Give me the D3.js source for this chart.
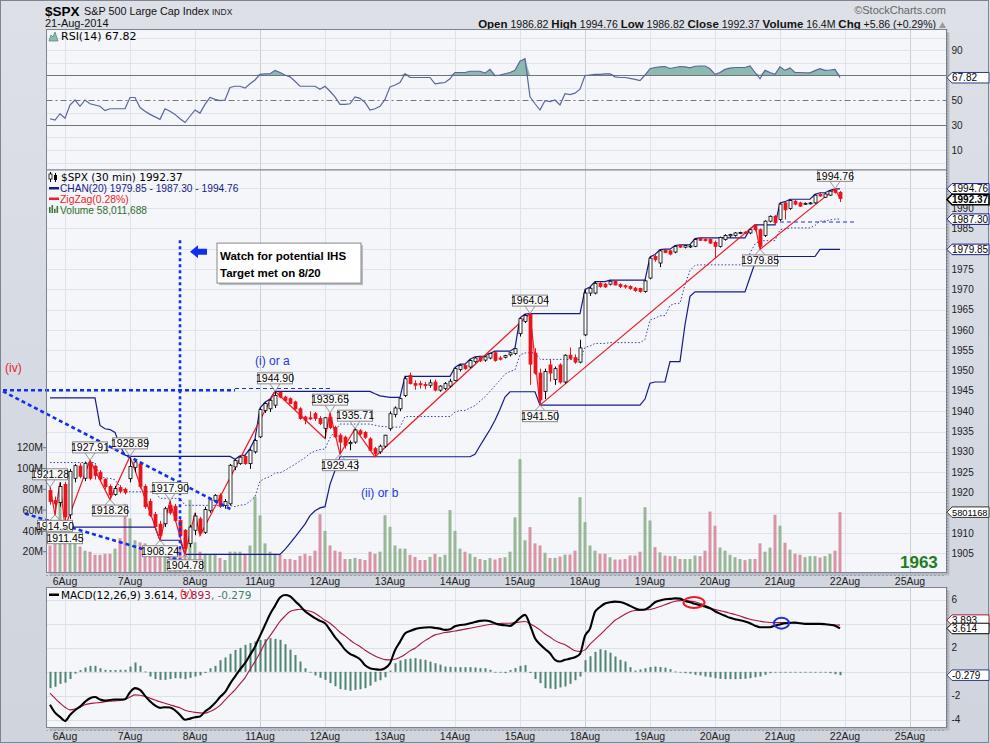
<!DOCTYPE html>
<meta charset="utf-8">
<style>
  body { margin: 0; background: #d6dae3; }
  svg text { font-family: "Liberation Sans", Arial, sans-serif; }
  .dv { font-family: "DejaVu Sans", Verdana, sans-serif !important; }
</style>
<svg width="990" height="744"></svg>
<script src="https://d3js.org/d3.v7.min.js"></script>
<script>
// ---- data (30 min bars, 5Aug close .. 21Aug) ----
var dayLabels = ['6Aug', '7Aug', '8Aug', '11Aug', '12Aug', '13Aug', '14Aug', '15Aug', '18Aug', '19Aug', '20Aug', '21Aug', '22Aug', '25Aug'];
var dayStarts = [3, 16, 29, 42, 55, 68, 81, 94, 107, 120, 133, 146, 159, 172];
var weekLabels = ['11Aug', '18Aug', '25Aug'];

// open, high, low, close
var candles = [
  [1920.5,1921.28,1917,1917.8],[1918,1919,1914.5,1917.2],[1917.5,1922.5,1916.5,1921.5],
  [1922,1922.6,1911.45,1914],[1914.5,1925.8,1913.5,1925.2],[1923.5,1927,1922.5,1926.6],[1926.5,1927.2,1923.5,1924],
  [1923.5,1927.6,1922.8,1927.2],[1927.2,1927.91,1923,1923.5],[1926.5,1926.8,1923.2,1924.2],[1925,1925.5,1922.8,1923.3],
  [1923.2,1923.5,1920.8,1921.4],[1921.5,1922,1918.26,1919.4],[1919.5,1921.6,1919.2,1921],[1921.2,1921.8,1919.8,1920.3],
  [1920.8,1921.2,1919.5,1920],
  [1923.4,1928.89,1922.5,1926.4],[1926.2,1928,1925,1927.5],[1927,1927.5,1921,1921.5],[1921.5,1922,1916,1916.5],
  [1917.8,1918.5,1914,1914.4],[1914.6,1915.2,1911,1911.6],[1912.2,1913,1908.24,1909.4],[1912.3,1916.5,1911.5,1916],
  [1916.8,1917.9,1914.5,1915],[1916.6,1917.2,1912.8,1913.1],[1913.1,1913.5,1909,1909.4],[1910.7,1911,1904.78,1906.2],
  [1907.4,1912,1906.5,1911.5],
  [1910.7,1915,1909.5,1914.2],[1913.5,1914,1909.4,1910],[1910.2,1916.5,1909.8,1915.8],[1915.5,1918.6,1915,1918.2],
  [1918,1919.6,1917.6,1919.3],[1919.3,1919.8,1916.2,1916.6],[1916.8,1918.4,1916,1917.8],[1917.2,1927,1916.8,1926.7],
  [1926.3,1928.2,1925.5,1927.9],[1927.1,1929,1926.8,1928.7],[1928.9,1929.2,1926.8,1927.1],[1927.1,1930.8,1925.8,1930.4],
  [1930,1933.2,1929.6,1932.8],
  [1933.7,1940.8,1933.4,1940.4],[1940.2,1942.2,1939.6,1941.9],[1940.6,1943,1939.8,1942.7],[1941.5,1944.9,1940.8,1943.9],
  [1944.6,1944.8,1943.2,1943.5],[1943.5,1943.8,1942.5,1942.7],[1943.1,1943.4,1941.7,1941.9],[1942.3,1942.6,1940.4,1940.6],
  [1940.6,1941,1937.9,1938.2],[1938.6,1938.9,1936.8,1937.8],[1938.4,1940,1937.8,1938.1],[1939.4,1939.8,1937.6,1938.2],
  [1938.2,1938.8,1936.6,1937],
  [1935.8,1938.6,1933.3,1938.4],[1938.5,1939.65,1935.6,1936],[1936,1936.4,1933.4,1933.7],[1934.1,1934.6,1929.43,1932.4],
  [1933.6,1934,1930.8,1931.6],[1932,1932.8,1930.4,1932.3],[1932.4,1935.71,1932,1935.4],[1935.2,1935.6,1934,1934.4],
  [1934.8,1935.1,1933.2,1933.6],[1933.2,1933.6,1930.2,1930.4],[1930.8,1931.2,1928.8,1929.6],[1930,1931.8,1929.5,1931.4],
  [1931.4,1934.2,1931,1934.1],
  [1935.7,1940,1935.2,1939.4],[1939.2,1941.2,1938.5,1940.8],[1940.6,1943.3,1940,1943.1],[1943.9,1948.6,1943.5,1948],
  [1948.8,1949.5,1946.6,1946.8],[1946.8,1947.6,1945.3,1946.4],[1946.8,1947.5,1945.6,1946.5],[1946.6,1947.2,1945.4,1946.3],
  [1946.4,1947.8,1945.8,1947],[1947.2,1947.8,1944.9,1945.2],[1945.2,1946.4,1944.8,1946.2],[1945.6,1947.2,1945.2,1946.8],
  [1946.2,1948,1945.8,1947.4],
  [1947.6,1950.8,1947.4,1950.5],[1950.3,1951.6,1949.8,1951.3],[1951.3,1951.6,1950.2,1950.5],[1950.9,1952.8,1950.6,1952.5],
  [1952.2,1953.4,1951.8,1953.1],[1953.2,1953.5,1952.1,1952.4],[1952.6,1953.6,1952.2,1953.4],[1953.1,1954.3,1952.8,1954.2],
  [1954.4,1954.8,1952.2,1952.5],[1953.1,1953.6,1952.5,1952.8],[1953.3,1953.9,1953,1953.7],[1953.9,1954.6,1953.5,1954.4],
  [1954.2,1955.6,1953.9,1955.4],
  [1959.1,1963,1958.4,1962.8],[1962.1,1963.9,1961.7,1963.6],[1963.8,1964.04,1946.5,1951.6],[1954.3,1955.5,1949,1949.4],
  [1949.4,1950.5,1941.5,1942.8],[1944.9,1950.5,1943,1949.8],[1951.4,1952.8,1947.3,1949.4],[1947.8,1951,1946.5,1950.5],
  [1951.4,1951.8,1946.8,1947.2],[1947.2,1954,1946.8,1953.8],[1953.8,1955.7,1952.7,1953],[1953.2,1954,1951.7,1952.1],
  [1952.1,1957.6,1951.8,1955.6],
  [1958.8,1970,1958.5,1969.1],[1969.1,1970.6,1968.4,1970.3],[1969.1,1971.9,1968.8,1971.5],[1971.5,1971.8,1970.4,1970.7],
  [1971.3,1971.6,1970.4,1970.6],[1971.3,1972.2,1971,1972],[1972,1972.3,1971,1971.1],[1971.2,1971.5,1970.3,1970.7],
  [1970.9,1971.2,1970.2,1970.6],[1970.7,1971,1969.9,1970.2],[1970.3,1970.6,1969.4,1969.7],[1970.2,1970.4,1969.2,1969.5],
  [1969.5,1972.4,1969.2,1972.1],
  [1972.8,1978,1972.5,1977.7],[1978.1,1978.6,1976.8,1977.3],[1976.5,1979.8,1975.5,1979.5],[1979.6,1979.9,1978.9,1979.1],
  [1979.5,1979.7,1978.4,1978.7],[1979.2,1980.8,1978.9,1980.6],[1980.8,1981,1980.2,1980.4],[1980.4,1980.9,1980.1,1980.8],
  [1980.6,1981,1980.2,1980.7],[1980.6,1982.5,1980.4,1982.3],[1982.5,1982.7,1981.9,1982.1],[1982.3,1982.6,1981.8,1982],
  [1982.3,1982.6,1981.2,1981.4],
  [1981.6,1982,1977.7,1980.6],[1980.6,1983,1980.3,1982.8],[1982.3,1983.6,1982,1983.3],[1983.2,1983.7,1982.8,1983.5],
  [1983.3,1984.1,1983,1983.9],[1983.9,1984.2,1983.6,1984],[1984.1,1984.3,1983.6,1983.8],[1983.9,1984.9,1983.6,1984.7],
  [1985.8,1985.9,1984.3,1984.7],[1984.7,1985,1979.85,1980.6],[1983.3,1987,1982.9,1986.8],[1986.8,1988.2,1986.5,1988],
  [1988,1988.3,1986,1986.4],
  [1987.2,1991.3,1986.82,1991],[1991.3,1991.6,1987.2,1989.6],[1989.9,1992.2,1989.6,1991.9],[1991.7,1992,1990.7,1991],
  [1991.3,1991.6,1990.3,1990.5],[1991,1991.4,1990.8,1991.2],[1991.1,1991.5,1990.9,1991.3],[1991.3,1993.4,1991.1,1993.2],
  [1993.4,1993.8,1992.8,1993],[1992.7,1993.7,1992.5,1993.5],[1993.2,1994.4,1993,1994.2],[1994.5,1994.76,1993.6,1993.9],
  [1993.9,1994.2,1991.5,1992.37]
];

// volume, millions
var volume = [
  26,29,70, 45,39,33,25,21,20,17,17,18,18,23,33,66,
  52,31,29,28,23,20,17,18,17,20,23,33,70,
  29,20,18,17,18,14,12,20,20,20,18,26,73,
  55,28,20,18,17,13,13,12,16,18,16,21,56,
  40,26,21,20,13,13,14,13,12,20,18,20,55,
  44,26,23,23,17,15,12,12,15,18,15,17,60,
  40,23,20,18,15,13,12,14,12.5,14,14.7,20,53,
  109,31,43.6,28,26,19,14,14,15.3,17.2,17.2,21,72.4,
  48.4,26,21,18,18,14.7,12.5,12.5,13,16.3,16.3,20,62.8,
  50,24.4,19.4,16.3,15.7,15.7,13,13,13,16.3,15.7,21,58.6,
  45,24,21,17,14.7,13,11.9,13,13,28,20,24,55.4,
  45,28.6,22,18,17,14.7,15.7,15.7,14.4,15.7,18,21,58.01
];

var rsi = [
  35,34,39, 35.5,46,50,45,50,47,46,45,41.5,43,43,43,43,
  52,52,44,41,38.5,36.5,34.5,43,41,38.5,35,32,37,
  42,39.5,46.5,52,50.5,49.5,50,60,61,61,59.5,63,66,
  70.5,71,71,73.7,72,70,68.5,65,61,61,61,61,58.5,
  61,57,52.5,46.5,46.5,47,52.5,51.3,48,42,43,45,50.5,
  60.5,62,64,71,68,68,68,68,68,63,63.5,64,67,
  72,72,72,73,73,73,71.5,74.5,69.5,70,71,72,73.7,
  81,83,52.5,47,42,49.5,48.7,50,46,55,54.3,55.5,58.7,
  69.5,70,70.5,70.5,71,71,68.5,68,68,67.3,66.5,65.5,70,
  75,76,76.5,76.8,75.2,76,76.8,76.5,75.7,77,77.2,77.2,75,
  70.5,72,74.5,75.5,76,76,76,77.2,72,67,73.7,72,70.5,
  76.5,73.7,75.7,72,72,71.8,71.7,73.5,75,73.7,74,74.5,67.82
];

var chanUpper = [
  1943.3,1943.3,1943.3,1943.3,1943.3,1943.3,1943.3,1943.3,1943.3,1943.3,
  1936.5,1935.7,1935.5,1934.8,1931.5,1929.2,
  1928.89,1928.89,1928.89,1928.89,1928.89,1928.89,1928.89,1928.89,1928.89,1928.89,1928.89,
  1928.89,1928.89,1928.89,1928.89,1928.89,1928.89,1928.89,1928.89,1928.89,1928.89,
  1928.2,1929,1929.2,1930.8,1933.2,1940.8,1942.2,1943,
  1944.9,1944.9,1944.9,1944.9,1944.9,1944.9,1944.9,1944.9,1944.9,1944.9,
  1944.9,1944.9,1944.9,1944.9,1944.9,1944.9,1944.9,1944.9,1944.9,1944.9,
  1944.3,1943.8,1943.6,1943.4,1943.4,1943.4,
  1948.6,1948.6,1948.6,1948.6,1948.6,1948.6,1948.6,1948.6,1948.6,1948.6,
  1950.8,1951.6,1951.6,1952.8,1953.4,1953.5,1953.6,1954.3,1954.8,1954.8,1954.8,1954.8,1955.6,1963,
  1963.9,1964.04,1964.04,1964.04,1964.04,1964.04,1964.04,1964.04,1964.04,1964.04,1964.04,1964.04,
  1970,1970.6,1971.9,1971.9,1971.9,
  1972.3,1972.3,1972.3,1972.3,1972.3,1972.3,1972.3,1972.3,
  1978,1978.6,1979.8,1979.9,1979.9,1980.8,1981,1981,1981,1982.5,
  1982.7,1982.7,1982.7,1982.7,1982.7,1982.7,1982.7,1982.7,1982.7,1982.7,
  1984.9,1985.9,1985.9,1985.9,1985.9,1985.9,
  1991.3,1991.6,1992.2,1992.2,1992.2,1992.2,1992.2,
  1993.4,1993.8,1993.8,1994.4,1994.76,1994.76
];

var chanLower = [
  1911.45,1911.45,1911.45,1911.45,1911.45,1911.45,1911.45,1911.45,1911.45,1911.45,1911.45,
  1911.45,1911.45,1911.45,1911.45,1911.45,1911.45,1911.45,1911.45,1911.45,1911.45,1911.45,
  1908.24,1908.24,1908.24,1908.24,1908.24,
  1904.78,1904.78,1904.78,1904.78,1904.78,1904.78,1904.78,1904.78,1904.78,1904.78,
  1904.78,1904.78,1904.78,1904.78,1904.78,1904.78,1904.78,1904.78,1904.78,1904.78,
  1906,1907.5,1909,1910.6,1912.2,1914.3,1915.5,1916.2,1916.5,1922,1925.4,
  1928.8,1928.8,1928.8,1928.8,1928.8,1928.8,1928.8,1928.8,1928.8,1928.8,1928.8,1928.8,1928.8,1928.8,
  1928.8,1928.8,1928.8,1928.8,1928.8,1928.8,1928.8,1928.8,1928.8,1928.8,1928.8,1928.8,1928.8,
  1929.4,1931.5,1933.5,1935.5,1937.8,1940.5,1943.5,
  1944.8,1944.8,1944.8,1944.8,1944.8,1944.8,
  1941.5,1941.5,1941.5,1941.5,1941.5,1941.5,1941.5,1941.5,1941.5,1941.5,1941.5,
  1941.5,1941.5,1941.5,1941.5,1941.5,1941.5,1941.5,1941.5,1941.5,1941.5,
  1943,1946.9,1947.2,1947.2,1947.2,1952.2,1952.2,1952.2,1961.3,1968.3,
  1969.4,1969.4,1969.4,1969.4,1969.4,1969.4,1969.4,1969.4,1969.4,1969.4,1969.4,
  1973,1976.5,
  1978.1,1978.1,1978.1,1978.1,1978.1,1978.1,1978.1,1978.1,1978.1,1978.1,1978.1,1978.1,
  1979.85,1979.85,1979.85,1979.85,1979.85
];

var macdLine = [
  -2.75,-3.4,-3.75, -4.1,-3.6,-3.2,-2.9,-2.5,-2.2,-2.1,-2.3,-2.4,-2.35,-2.3,-2.3,-2.28,
  -1.7,-1.36,-1.5,-2.0,-2.45,-2.8,-3.0,-2.95,-2.97,-3.2,-3.6,-4.0,-3.9,
  -3.78,-3.72,-3.3,-3.0,-2.6,-2.1,-1.7,-1.0,-0.4,0.2,0.72,1.4,2.1,
  3.0,3.9,4.8,5.5,6.2,6.4,6.3,5.9,5.5,5.05,4.75,4.47,4.25,
  4.05,3.5,2.9,2.4,1.85,1.5,1.3,1.05,0.55,0.3,0.22,0.17,0.3,
  0.72,1.8,2.5,3.2,3.4,3.56,3.65,3.7,3.72,3.66,3.6,3.5,3.55,
  3.8,3.9,3.95,4.05,4.15,4.25,4.28,4.22,4.05,3.92,3.88,3.83,4.1,
  4.5,4.75,3.9,2.8,2.3,1.9,1.55,1.0,0.86,1.0,1.1,1.22,1.5,
  3.0,3.6,5.0,5.4,5.7,5.8,5.85,5.82,5.7,5.5,5.3,5.17,5.2,
  5.44,5.8,5.95,6.05,6.08,6.12,6.1,5.9,5.8,5.67,5.55,5.44,5.3,
  5.05,4.85,4.67,4.5,4.39,4.3,4.2,4.05,3.85,3.72,3.72,3.72,3.85,
  3.95,4.05,4.08,4.1,4.05,4.0,4.0,4.0,4.0,3.97,3.92,3.85,3.614
];

var macdSignal = [
  -1.78,-2.2,-2.6, -2.95,-3.17,-3.1,-2.95,-2.75,-2.65,-2.6,-2.56,-2.5,-2.45,-2.42,-2.39,-2.3,
  -2.1,-1.92,-1.95,-2.05,-2.2,-2.35,-2.5,-2.62,-2.75,-2.88,-3.0,-3.2,-3.3,
  -3.38,-3.42,-3.44,-3.3,-3.1,-2.8,-2.35,-1.92,-1.5,-1.0,-0.5,0.2,0.86,
  1.6,2.4,3.0,3.6,4.2,4.65,5.03,5.15,5.22,5.15,5.05,4.89,4.6,
  4.3,4.05,3.7,3.3,3.0,2.65,2.35,2.11,1.8,1.55,1.33,1.15,1.02,
  1.0,1.05,1.22,1.45,1.75,1.97,2.3,2.6,2.85,3.08,3.18,3.28,3.33,
  3.4,3.48,3.56,3.64,3.72,3.8,3.88,3.95,4.0,4.03,4.05,4.05,4.1,
  4.15,4.2,4.0,3.78,3.5,3.15,2.9,2.6,2.4,2.25,2.0,1.75,1.69,
  1.83,2.3,2.7,3.08,3.5,3.9,4.3,4.55,4.8,5.0,5.11,5.15,5.17,
  5.2,5.3,5.44,5.6,5.75,5.88,5.94,5.95,5.9,5.84,5.7,5.55,5.35,
  5.2,5.1,5.0,4.89,4.78,4.65,4.5,4.39,4.3,4.22,4.15,4.11,4.1,
  4.1,4.11,4.1,4.08,4.05,4.03,4.0,4.0,3.98,3.96,3.93,3.91,3.893
];

var macdHist = [
  -1.36,-1.25,-1.0, -0.9,-0.6,-0.15,0.15,0.36,0.5,0.5,0.3,0.17,0.15,0.15,0.17,0.17,
  0.44,0.78,0.5,0.03,-0.39,-0.6,-0.67,-0.67,-0.6,-0.53,-0.55,-0.61,-0.5,
  -0.39,-0.3,-0.1,0.3,0.5,0.97,1.2,1.5,1.83,2.0,2.25,2.4,2.53,
  2.65,2.72,2.81,2.75,2.67,2.3,1.85,1.4,0.86,0.3,-0.05,-0.3,-0.5,
  -0.67,-0.94,-1.2,-1.44,-1.5,-1.58,-1.5,-1.45,-1.36,-1.15,-0.83,-0.7,-0.45,
  0.1,0.72,0.95,1.06,1.1,1.14,1.05,1.0,0.85,0.72,0.6,0.44,0.42,
  0.39,0.39,0.39,0.39,0.36,0.31,0.3,0.17,0.0,-0.06,-0.11,0.15,0.31,
  0.5,0.56,-0.1,-0.6,-0.94,-1.36,-1.4,-1.44,-1.3,-1.22,-1.0,-0.7,-0.39,
  0.97,1.3,1.67,1.89,1.8,1.6,1.28,1.0,0.86,0.39,0.11,0.2,0.3,
  0.4,0.44,0.4,0.35,0.22,0.03,-0.05,-0.11,-0.15,-0.25,-0.3,-0.39,-0.45,
  -0.53,-0.58,-0.61,-0.61,-0.61,-0.6,-0.58,-0.53,-0.45,-0.39,-0.25,-0.11,-0.05,
  0.0,-0.03,-0.03,-0.03,-0.03,-0.03,-0.03,-0.03,-0.03,-0.03,-0.11,-0.2,-0.279
];

// zigzag pivots: bar, price, label side ('' = no label)
var zigzag = [
  [0,1921.28,'hi'],[1,1914.50,'lo'],[2,1922.5,''],[3,1911.45,'lo'],[8,1927.91,'hi'],[12,1918.26,'lo'],
  [16,1928.89,'hi'],[22,1908.24,'lo'],[24,1917.90,'hi'],[27,1904.78,'lo'],[29,1915,''],[30,1909.4,''],
  [45,1944.90,'hi'],[55,1933.3,''],[56,1939.65,'hi'],[58,1929.43,'lo'],[61,1935.71,'hi'],[65,1928.8,''],
  [96,1964.04,'hi'],[98,1941.50,'lo'],[141,1985.9,''],[142,1979.85,'lo'],[157,1994.76,'hi'],[158,1992.37,'']
];

var priceTicks = [1905,1910,1915,1920,1925,1930,1935,1940,1945,1950,1955,1960,1965,1970,1975,1980,1985,1990,1995];
var volTicks = [20,40,60,80,100,120];
var rsiGrid = [0,10,20,30,40,50,60,70,80,90,100];
var rsiTicks = [90,70,50,30,10];
var macdTicks = [6,4,2,0,-2,-4];

// hand drawn annotations, in bar / price units
var thickDashes = [[-9.4,1945.16,37,1945.16],[-9.4,1944.9,36.6,1915.6],[-5,1914.8,27.4,1902.8]];
var thinDashes = [[37,1945.6,56,1945.6],[146,1986.6,161,1986.6]];
var vLine = [26,1982.1,1900.8];

// ---- layout ----
var svg = d3.select('svg');
var L = 46.5, R = 946.5;
var P = {rsi: [29.5, 170], main: [170, 572.5], macd: [587.5, 727.5]};
var x = d3.scaleLinear().domain([-0.7, 179.3]).range([L, R]);
var yR = d3.scaleLinear().domain([-6, 106.4]).range([P.rsi[1], P.rsi[0]]);
var yP = d3.scaleLinear().domain([1900.3, 1999.4]).range([P.main[1], P.main[0]]);
var yV = d3.scaleLinear().domain([0, 120]).range([P.main[1], P.main[1] - 124.8]);
var yM = d3.scaleLinear().domain([-4.64, 7.03]).range([P.macd[1], P.macd[0]]);

var defs = svg.append('defs');
var bg = defs.append('linearGradient').attr('id', 'bg').attr('x1', 0).attr('y1', 0).attr('x2', 0).attr('y2', 1);
bg.append('stop').attr('offset', 0).attr('stop-color', '#dde0e7');
bg.append('stop').attr('offset', 1).attr('stop-color', '#cfd4dd');
svg.append('rect').attr('width', 990).attr('height', 744).attr('fill', 'url(#bg)');
svg.append('rect').attr('x', 0.5).attr('y', 0.5).attr('width', 988).attr('height', 742)
  .attr('fill', 'none').attr('stroke', '#7f848e');

Object.keys(P).forEach(function (k) {
  defs.append('clipPath').attr('id', 'clip-' + k).append('rect')
    .attr('x', L).attr('y', P[k][0]).attr('width', R - L).attr('height', P[k][1] - P[k][0]);
});

function panel(k) {
  var t = P[k][0], b = P[k][1];
  svg.append('rect').attr('x', L + 3).attr('y', t + 3).attr('width', R - L).attr('height', b - t).attr('fill', '#b4b9c3');
  svg.append('rect').attr('x', L).attr('y', t).attr('width', R - L).attr('height', b - t).attr('fill', '#f5f6fa');
  var g = svg.append('g');
  dayStarts.forEach(function (d, j) {
    var wk = weekLabels.indexOf(dayLabels[j]) >= 0;
    g.append('line').attr('x1', Math.round(x(d)) + 0.5).attr('x2', Math.round(x(d)) + 0.5).attr('y1', t).attr('y2', b)
      .attr('stroke', wk ? '#c9cdd5' : '#dfe2e8');
  });
  return g;
}

function frame(k) {
  svg.append('rect').attr('x', L).attr('y', P[k][0]).attr('width', R - L).attr('height', P[k][1] - P[k][0])
    .attr('fill', 'none').attr('stroke', '#7d838e');
  svg.append('line').attr('x1', R + 0.5).attr('x2', R + 0.5).attr('y1', P[k][0]).attr('y2', P[k][1])
    .attr('stroke', '#666').attr('stroke-dasharray', '1,2');
}

function hline(g, y, color, dash) {
  g.append('line').attr('x1', L).attr('x2', R).attr('y1', Math.round(y) + 0.5).attr('y2', Math.round(y) + 0.5)
    .attr('stroke', color).attr('stroke-dasharray', dash || null);
}

// right axis labels; those sitting under a value tag are hidden, as on the original
function axisLabels(ticks, scale, tags) {
  ticks.forEach(function (v) {
    var y = scale(v);
    if (tags.some(function (t) { return Math.abs(t - y) < 7; })) return;
    svg.append('text').attr('x', R + 5).attr('y', y).attr('dy', '0.35em').attr('font-size', 10)
      .attr('fill', '#222').text(v);
  });
}

function tag(y, txt, color, bold, fs) {
  var h = 10.5, w = 42, x0 = R + 0.5;
  svg.append('path').attr('d', 'M' + x0 + ',' + y + 'L' + (x0 + 5) + ',' + (y - h / 2) + 'H' + (x0 + w) +
    'V' + (y + h / 2) + 'H' + (x0 + 5) + 'Z')
    .attr('fill', '#fff').attr('stroke', color).attr('stroke-width', bold ? 1.6 : 1);
  svg.append('text').attr('x', x0 + 5).attr('y', y).attr('dy', '0.36em')
    .attr('font-size', fs || 10).attr('font-weight', bold ? 'bold' : null)
    .attr('fill', '#000').text(txt);
}

function dateAxis(y) {
  svg.append('line').attr('x1', L).attr('x2', R).attr('y1', y - 5.5).attr('y2', y - 5.5)
    .attr('stroke', '#777').attr('stroke-dasharray', '1,3');
  dayStarts.forEach(function (d, j) {
    svg.append('text').attr('x', x(d)).attr('y', y).attr('dy', '0.35em').attr('text-anchor', 'middle')
      .attr('font-size', 10.5).attr('fill', '#222').text(dayLabels[j]);
  });
}

// ---- header ----
svg.append('text').attr('x', 45).attr('y', 16).attr('font-size', 13.5).attr('font-weight', 'bold').text('$SPX');
svg.append('text').attr('x', 84).attr('y', 15).attr('font-size', 10.8).attr('fill', '#111').text('S&P 500 Large Cap Index');
svg.append('text').attr('x', 212).attr('y', 15).attr('font-size', 8.5).attr('fill', '#222').text('INDX');
svg.append('text').attr('x', 45).attr('y', 27).attr('font-size', 11).attr('fill', '#111').text('21-Aug-2014');
svg.append('text').attr('x', 946).attr('y', 14).attr('text-anchor', 'end').attr('font-size', 11)
  .attr('fill', '#666').text('\u00a9StockCharts.com');
var hdr = svg.append('text').attr('x', 936).attr('y', 28).attr('text-anchor', 'end').attr('font-size', 10.5).attr('fill', '#111');
[['Open', ' 1986.82 '], ['High', ' 1994.76 '], ['Low', ' 1986.82 '], ['Close', ' 1992.37 '],
 ['Volume', ' 16.4M '], ['Chg', ' +5.86 (+0.29%)']].forEach(function (p) {
  hdr.append('tspan').attr('font-weight', 'bold').attr('font-size', 11.5).text(p[0]);
  hdr.append('tspan').text(p[1]);
});
svg.append('path').attr('d', 'M939,28 L942.5,22 L946,28 Z').attr('fill', '#999');

// ---- RSI panel ----
var gR = panel('rsi');
rsiGrid.forEach(function (v) {
  if (v === 70 || v === 30) hline(gR, yR(v), '#6e737c');
  else if (v === 50) hline(gR, yR(v), '#777', '6,3,2,3');
  else hline(gR, yR(v), '#e0e3e9');
});
var cR = svg.append('g').attr('clip-path', 'url(#clip-rsi)');
cR.append('path').datum(rsi)
  .attr('d', d3.area().x(function (d, i) { return x(i); }).y0(yR(70)).y1(function (d) { return yR(Math.max(d, 70)); }))
  .attr('fill', '#8dbab0').attr('stroke', 'none');
cR.append('path').datum(rsi)
  .attr('d', d3.line().x(function (d, i) { return x(i); }).y(function (d) { return yR(d); }))
  .attr('fill', 'none').attr('stroke', '#5965a0').attr('stroke-width', 1.2);
frame('rsi');
axisLabels(rsiTicks, yR, [yR(67.82)]);
tag(yR(67.82), '67.82', '#2b3a8c');
svg.append('path').attr('d', 'M49,41 L51,35 L53,37 L55,32 L58,41 Z').attr('fill', '#8dbab0').attr('stroke', '#4d7f74').attr('stroke-width', 0.7);
svg.append('text').attr('class', 'dv').attr('x', 61).attr('y', 40).attr('font-size', 11).text('RSI(14) 67.82');

// ---- main panel ----
var gM = panel('main');
priceTicks.forEach(function (v) { hline(gM, yP(v), '#e0e3e9'); });
var cM = svg.append('g').attr('clip-path', 'url(#clip-main)');

cM.selectAll('.vol').data(volume).enter().append('rect')
  .attr('x', function (d, i) { return x(i) - 1.5; })
  .attr('y', function (d) { return yV(d); })
  .attr('width', 3)
  .attr('height', function (d) { return yV(0) - yV(d); })
  .attr('fill', function (d, i) { return candles[i][3] >= candles[i][0] ? '#98b797' : '#d993a5'; });

var stepLine = d3.line().x(function (d, i) { return x(i); }).y(function (d) { return yP(d); });
cM.append('path').datum(chanUpper).attr('d', stepLine).attr('fill', 'none').attr('stroke', '#161a8a').attr('stroke-width', 1.2);
cM.append('path').datum(chanLower).attr('d', stepLine).attr('fill', 'none').attr('stroke', '#161a8a').attr('stroke-width', 1.2);
cM.append('path').datum(chanUpper.map(function (u, i) { return (u + chanLower[i]) / 2; }))
  .attr('d', stepLine).attr('fill', 'none').attr('stroke', '#3a40a8').attr('stroke-width', 1).attr('stroke-dasharray', '1.5,2');

cM.append('path').datum(zigzag)
  .attr('d', d3.line().x(function (d) { return x(d[0]); }).y(function (d) { return yP(d[1]); }))
  .attr('fill', 'none').attr('stroke', '#ee1c24').attr('stroke-width', 1.2);

var cg = cM.selectAll('.c').data(candles).enter().append('g');
cg.append('line')
  .attr('x1', function (d, i) { return Math.round(x(i)) + 0.5; })
  .attr('x2', function (d, i) { return Math.round(x(i)) + 0.5; })
  .attr('y1', function (d) { return yP(d[1]); })
  .attr('y2', function (d) { return yP(d[2]); })
  .attr('stroke', function (d) { return d[3] >= d[0] ? '#000' : '#e8141c'; });
cg.append('rect')
  .attr('x', function (d, i) { return Math.round(x(i)) - 1; })
  .attr('y', function (d) { return yP(Math.max(d[0], d[3])); })
  .attr('width', 3)
  .attr('height', function (d) { return Math.max(1, yP(Math.min(d[0], d[3])) - yP(Math.max(d[0], d[3]))); })
  .attr('fill', function (d) { return d[3] >= d[0] ? '#fff' : '#e8141c'; })
  .attr('stroke', function (d) { return d[3] >= d[0] ? '#000' : '#e8141c'; })
  .attr('stroke-width', 0.8);

// blue hand drawn lines
var ann = svg.append('g');
thickDashes.forEach(function (s) {
  ann.append('line').attr('x1', x(s[0])).attr('y1', yP(s[1])).attr('x2', x(s[2])).attr('y2', yP(s[3]))
    .attr('stroke', '#1030f0').attr('stroke-width', 2.6).attr('stroke-dasharray', '4,3');
});
thinDashes.forEach(function (s) {
  ann.append('line').attr('x1', x(s[0])).attr('y1', yP(s[1])).attr('x2', x(s[2])).attr('y2', yP(s[3]))
    .attr('stroke', '#2030d0').attr('stroke-width', 1.2).attr('stroke-dasharray', '4,3');
});
ann.append('line').attr('x1', x(vLine[0])).attr('x2', x(vLine[0])).attr('y1', yP(vLine[1])).attr('y2', yP(vLine[2]))
  .attr('stroke', '#1030f0').attr('stroke-width', 2.6).attr('stroke-dasharray', '3,3');

// zigzag labels
zigzag.filter(function (z) { return z[2]; }).forEach(function (z) {
  var cx = x(z[0]), py = yP(z[1]), hi = z[2] === 'hi';
  var cy = hi ? py - 13 : py + 11;
  var e = hi ? cy + 5.5 : cy - 5.5;
  ann.append('path').attr('d', 'M' + (cx - 5) + ',' + e + 'L' + cx + ',' + py + 'L' + (cx + 5) + ',' + e)
    .attr('fill', 'none').attr('stroke', '#999');
  ann.append('rect').attr('x', cx - 17.5).attr('y', cy - 5.5).attr('width', 35).attr('height', 11)
    .attr('fill', '#fbfbfb').attr('stroke', '#888');
  ann.append('text').attr('x', cx).attr('y', cy).attr('dy', '0.36em').attr('text-anchor', 'middle')
    .attr('font-size', 10.5).attr('fill', '#000').text(z[1].toFixed(2));
});

// arrow and note
var ay = yP(1979.3), ax = x(28);
ann.append('path').attr('d', 'M' + ax + ',' + ay + 'L' + (ax + 8) + ',' + (ay - 6.5) + 'V' + (ay - 3) + 'H' + (ax + 17) +
  'V' + (ay + 3) + 'H' + (ax + 8) + 'V' + (ay + 6.5) + 'Z').attr('fill', '#1030f0');
var nx = x(33.4), ny = yP(1981.4);
ann.append('rect').attr('x', nx + 2).attr('y', ny + 2).attr('width', 144).attr('height', 40).attr('fill', '#b9bcc4');
ann.append('rect').attr('x', nx).attr('y', ny).attr('width', 144).attr('height', 40).attr('fill', '#fff').attr('stroke', '#888');
ann.append('text').attr('x', nx + 3).attr('y', ny + 17).attr('font-size', 11.5).attr('font-weight', 'bold').text('Watch for potential IHS');
ann.append('text').attr('x', nx + 3).attr('y', ny + 34).attr('font-size', 11.5).attr('font-weight', 'bold').text('Target met on 8/20');

ann.append('text').attr('x', x(-9)).attr('y', yP(1950.8)).attr('dy', '0.35em').attr('font-size', 12).attr('fill', '#e02828').text('(iv)');
ann.append('text').attr('x', x(41)).attr('y', yP(1952.3)).attr('dy', '0.35em').attr('font-size', 12).attr('fill', '#2436e0').text('(i) or a');
ann.append('text').attr('x', x(62.2)).attr('y', yP(1919.8)).attr('dy', '0.35em').attr('font-size', 12).attr('fill', '#2436e0').text('(ii) or b');
ann.append('text').attr('x', x(170)).attr('y', yP(1901.5)).attr('font-size', 17).attr('font-weight', 'bold').attr('fill', '#1d7d1d').text('1963');

frame('main');

// main legend
var lg = svg.append('g');
lg.append('line').attr('x1', 50.5).attr('x2', 50.5).attr('y1', 172).attr('y2', 182).attr('stroke', '#000');
lg.append('rect').attr('x', 49).attr('y', 174).attr('width', 3).attr('height', 5).attr('fill', '#fff').attr('stroke', '#000').attr('stroke-width', 0.8);
lg.append('line').attr('x1', 55.5).attr('x2', 55.5).attr('y1', 173).attr('y2', 182).attr('stroke', '#000');
lg.append('rect').attr('x', 54).attr('y', 175).attr('width', 3).attr('height', 5).attr('fill', '#000');
lg.append('text').attr('class', 'dv').attr('x', 61).attr('y', 181).attr('font-size', 10.5).text('$SPX (30 min) 1992.37');
lg.append('rect').attr('x', 49).attr('y', 187).attr('width', 10).attr('height', 2.5).attr('fill', '#161a8a');
lg.append('text').attr('x', 60).attr('y', 192).attr('font-size', 10.2).attr('fill', '#161a8a').text('CHAN(20) 1979.85 - 1987.30 - 1994.76');
lg.append('rect').attr('x', 49).attr('y', 197.5).attr('width', 10).attr('height', 2.5).attr('fill', '#ee1c24');
lg.append('text').attr('x', 60).attr('y', 203).attr('font-size', 10.4).attr('fill', '#ee1c24').text('ZigZag(0.28%)');
[[49, 207], [51.5, 205], [54, 209], [56.5, 206]].forEach(function (b) {
  lg.append('rect').attr('x', b[0]).attr('y', b[1]).attr('width', 1.6).attr('height', 213 - b[1]).attr('fill', '#3d7a3d');
});
lg.append('text').attr('x', 60).attr('y', 213.5).attr('font-size', 10.2).attr('fill', '#2f6e2f').text('Volume 58,011,688');

var mainTags = [yP(1994.76), yP(1979.85), yV(58.01)];
axisLabels(priceTicks, yP, mainTags);
volTicks.forEach(function (v) {
  svg.append('text').attr('x', 43).attr('y', yV(v)).attr('dy', '0.35em').attr('text-anchor', 'end')
    .attr('font-size', 10.5).attr('fill', '#222').text(v + 'M');
  svg.append('line').attr('x1', 43).attr('x2', 46.5).attr('y1', yV(v)).attr('y2', yV(v)).attr('stroke', '#777');
});
tag(yP(1994.76), '1994.76', '#161a8a');
tag(yP(1987.30), '1987.30', '#161a8a');
tag(yP(1979.85), '1979.85', '#161a8a');
tag(yV(58.01), '5801168', '#333', false, 9.3);
tag(yP(1992.37) + 1, '1992.37', '#000', true);
dateAxis(581);

// ---- MACD panel ----
var gD = panel('macd');
macdTicks.forEach(function (v) { hline(gD, yM(v), '#dde0e6'); });
var cD = svg.append('g').attr('clip-path', 'url(#clip-macd)');
cD.selectAll('.h').data(macdHist).enter().append('rect')
  .attr('x', function (d, i) { return Math.round(x(i)) - 0.5; })
  .attr('y', function (d) { return Math.min(yM(0), yM(d)); })
  .attr('width', 2)
  .attr('height', function (d) { return Math.max(0.8, Math.abs(yM(d) - yM(0))); })
  .attr('fill', '#4f8373');
cD.append('path').datum(macdSignal)
  .attr('d', d3.line().curve(d3.curveMonotoneX).x(function (d, i) { return x(i); }).y(function (d) { return yM(d); }))
  .attr('fill', 'none').attr('stroke', '#a8163f').attr('stroke-width', 1.1);
cD.append('path').datum(macdLine)
  .attr('d', d3.line().curve(d3.curveMonotoneX).x(function (d, i) { return x(i); }).y(function (d) { return yM(d); }))
  .attr('fill', 'none').attr('stroke', '#000').attr('stroke-width', 2.1);
cD.append('ellipse').attr('cx', x(128.8)).attr('cy', yM(5.78)).attr('rx', 10.5).attr('ry', 5.5)
  .attr('fill', 'none').attr('stroke', '#ee1c24').attr('stroke-width', 2);
cD.append('ellipse').attr('cx', x(146.3)).attr('cy', yM(4.06)).attr('rx', 7.5).attr('ry', 5.5)
  .attr('fill', 'none').attr('stroke', '#1f2ee8').attr('stroke-width', 2);
frame('macd');
svg.append('rect').attr('x', 49).attr('y', 593.5).attr('width', 10).attr('height', 2.5).attr('fill', '#000');
var ml = svg.append('text').attr('class', 'dv').attr('x', 61).attr('y', 599).attr('font-size', 10.5);
ml.append('tspan').attr('fill', '#000').text('MACD(12,26,9) 3.614, ');
ml.append('tspan').attr('fill', '#a8163f').text('3.893');
ml.append('tspan').attr('fill', '#3d7f6d').text(', -0.279');
svg.append('text').attr('x', 180).attr('y', 597).attr('font-size', 11).attr('fill', '#ee1c24').text('(v)');
axisLabels(macdTicks, yM, [yM(3.893), yM(3.614), yM(-0.279)]);
tag(yM(3.893) - 5, '3.893', '#a8163f');
tag(yM(3.614), '3.614', '#000');
tag(yM(-0.279), '-0.279', '#2b3a8c');
dateAxis(736);
</script>
